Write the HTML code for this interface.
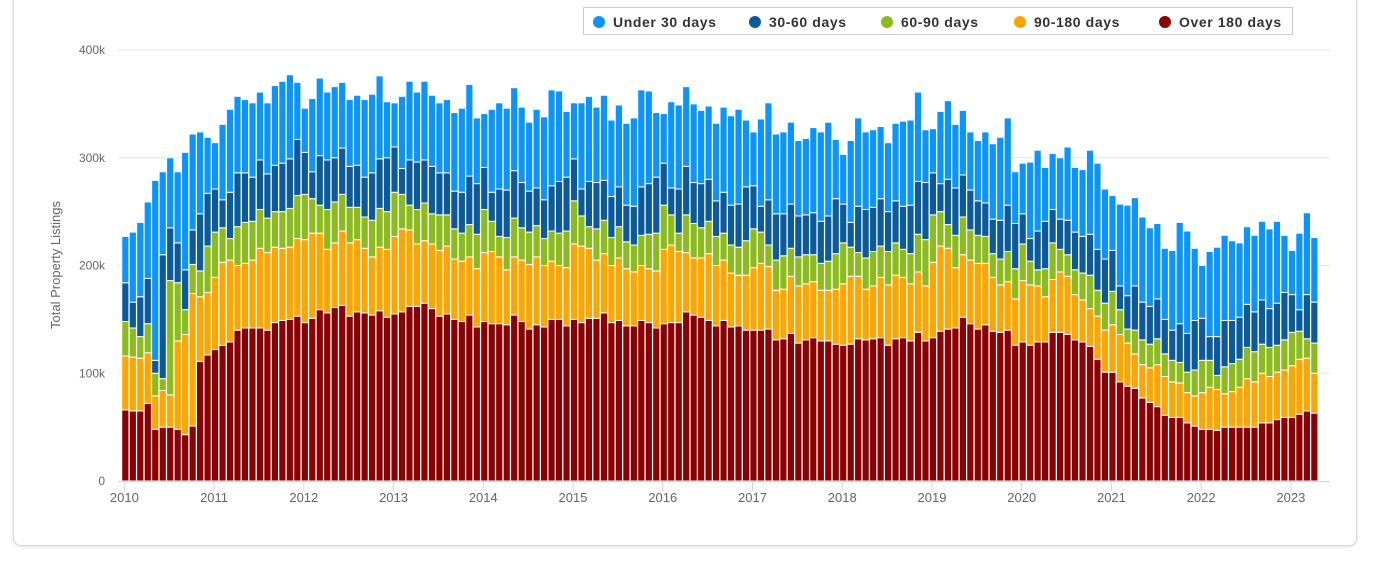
<!DOCTYPE html>
<html><head><meta charset="utf-8">
<style>
html,body{margin:0;padding:0;background:#fff;width:1378px;height:563px;overflow:hidden;font-family:"Liberation Sans",sans-serif;}
#card{position:absolute;left:13px;top:-20px;width:1342px;height:564px;border:1px solid #d8d8d8;border-radius:8px;box-shadow:0 1px 3px rgba(0,0,0,0.12);background:#fff;}
svg{position:absolute;left:0;top:0;}
</style></head><body>
<div id="card"></div>
<svg id="chart" width="1378" height="563"></svg>
<script>
const startYear = 2010;
const yTicks = [0,100,200,300,400];
const yTickLabels = ["0","100k","200k","300k","400k"];
const xYearLabels = ["2010","2011","2012","2013","2014","2015","2016","2017","2018","2019","2020","2021","2022","2023"];
const seriesNames = ["Over 180 days","90-180 days","60-90 days","30-60 days","Under 30 days"];
const over180 = [66,65,65,72,48,50,50,48,43,51,111,117,122,126,129,140,142,142,142,140,147,149,150,153,147,151,159,156,161,163,153,157,156,154,158,152,155,157,162,162,165,160,153,155,150,148,154,143,148,146,146,145,154,148,141,145,143,150,150,144,150,147,151,151,156,147,149,144,144,149,147,142,146,147,147,157,154,152,149,144,149,143,144,140,140,140,141,131,132,137,128,131,133,130,130,127,126,127,132,131,132,133,126,132,133,130,138,130,133,139,141,142,152,146,141,145,139,138,140,126,129,126,129,129,138,138,136,131,129,125,113,101,101,92,88,86,77,73,69,61,59,59,54,51,48,48,47,50,50,50,50,50,54,54,57,59,59,62,65,63];
const d90to180 = [50,50,49,47,31,34,30,82,93,123,60,58,67,77,76,60,60,63,74,72,70,67,67,72,77,79,71,59,60,69,68,67,60,54,59,63,72,77,71,58,58,60,61,63,56,56,54,54,64,67,62,51,54,57,60,63,57,54,50,54,70,71,65,54,55,53,58,53,50,51,50,53,69,72,66,55,53,55,62,56,56,50,47,51,58,62,58,46,46,53,53,52,52,47,47,51,57,63,58,47,49,56,56,59,56,53,56,51,70,79,75,56,58,59,61,57,50,44,45,43,57,56,52,42,49,56,54,42,39,35,40,39,44,44,40,32,31,32,39,36,33,32,28,28,34,39,38,31,33,37,45,42,46,43,44,44,48,51,49,37];
const d60to90 = [32,27,20,27,21,11,106,54,23,27,24,43,42,32,20,36,38,36,36,32,33,34,36,40,42,32,26,37,38,34,33,30,29,34,36,35,41,32,23,32,35,28,33,29,28,26,30,32,40,28,19,30,36,30,30,29,25,28,30,34,40,28,20,29,31,26,29,25,25,28,32,35,41,28,17,35,32,28,30,27,25,26,26,32,36,29,20,28,31,26,27,27,25,25,27,33,38,27,22,29,32,29,31,30,26,28,35,43,44,32,22,30,35,28,26,25,22,24,28,28,34,22,15,26,34,21,20,23,25,31,24,25,31,23,13,22,23,22,24,21,20,19,19,24,30,25,13,25,26,26,29,28,27,27,25,28,31,26,18,28];
const d30to60 = [36,24,37,42,12,115,49,37,37,32,53,49,40,26,43,50,46,41,46,41,43,45,46,52,39,25,46,46,41,43,38,39,37,44,46,50,42,24,42,44,40,44,39,39,35,38,45,47,39,27,44,44,44,42,38,35,36,42,48,50,39,25,42,43,37,38,37,34,36,45,47,52,39,25,41,45,38,41,39,33,38,37,40,50,40,24,42,43,39,41,38,37,39,39,42,51,36,23,43,45,41,44,37,39,40,45,49,53,39,26,42,44,39,37,32,31,32,36,43,42,28,21,36,44,31,28,32,35,34,38,38,41,38,22,31,41,35,35,37,32,28,36,36,46,39,22,36,43,40,39,40,37,41,36,39,44,35,20,41,38];
const under30 = [43,65,69,71,167,77,65,66,109,89,76,52,43,70,77,71,68,69,63,66,74,76,78,53,41,68,72,63,66,61,62,65,72,73,77,52,41,67,73,65,73,66,65,68,73,78,85,61,50,77,80,76,77,70,64,73,77,89,84,61,52,80,79,70,79,71,76,76,82,90,86,60,46,80,78,74,73,68,68,72,79,83,88,62,50,81,90,74,76,76,70,71,79,83,87,55,46,76,82,72,72,67,64,72,79,79,83,49,41,67,73,59,60,54,56,66,70,77,81,48,47,71,75,50,52,57,68,60,62,78,80,65,51,76,84,82,79,73,70,66,74,94,95,67,49,79,83,79,74,69,72,71,73,74,76,53,41,71,76,60];

const NS="http://www.w3.org/2000/svg";
const svg=document.getElementById('chart');
const plotTop=50, plotBottom=481, yMax=400;
const xLeft=118.6, band=7.478;
function yPos(v){return plotBottom-(v/yMax)*(plotBottom-plotTop);}
function xCenter(i){return xLeft+band*i+band/2+3;}
function mk(tag,attrs){const e=document.createElementNS(NS,tag);for(const k in attrs)e.setAttribute(k,attrs[k]);svg.appendChild(e);return e;}

yTicks.forEach((t,k)=>{
  if(t>0){const g=mk('line',{x1:118,x2:1330,y1:yPos(t),y2:yPos(t),stroke:'#e6e6e6','stroke-width':1});
  
  }
  const tx=mk('text',{x:105,y:yPos(t)+4,'text-anchor':'end','font-size':'12',fill:'#666'});
  tx.textContent=yTickLabels[k];
  
  
});
const yt=mk('text',{x:0,y:0,transform:'translate(60,265) rotate(-90)','text-anchor':'middle','font-size':'13',fill:'#666'});
yt.textContent='Total Property Listings';



const series=[over180,d90to180,d60to90,d30to60,under30];
const colors=['#8b0000','#ffa500','#8cbb1e','#0a5a9c','#0b94fd'];
const n=over180.length;
for(let i=0;i<n;i++){
  let cum=0;
  for(let s=0;s<series.length;s++){
    const v=series[s][i];
    const y1=yPos(cum+v), y0=yPos(cum);
    const r=mk('rect',{x:xCenter(i)-3.6,y:y1,width:7.2,height:Math.max(0,y0-y1),fill:colors[s],stroke:'#fff','stroke-width':1});
    
    
    cum+=v;
  }
}
const ax=mk('line',{x1:118,x2:1330,y1:481.5,y2:481.5,stroke:'#ccd6eb','stroke-width':1});


xYearLabels.forEach((lab,k)=>{
  const x=xCenter(k*12)-1;
  const tk=mk('line',{x1:x,x2:x,y1:481,y2:491,stroke:'#ccd6eb','stroke-width':1});
  
  
  const t=mk('text',{x:x,y:502,'text-anchor':'middle','font-size':'13',fill:'#666'});
  t.textContent=lab;
  
  
});

const lg=mk('rect',{x:583.5,y:7.5,width:709,height:27,fill:'#fff',stroke:'#cccccc','stroke-width':1});


const legNames=["Under 30 days","30-60 days","60-90 days","90-180 days","Over 180 days"];
const legColors=['#0b94fd','#0a5a9c','#8cbb1e','#ffa500','#8b0000'];
const legX=[599,755,887,1020,1165];
legNames.forEach((nm,k)=>{
  const c=mk('circle',{cx:legX[k],cy:22,r:6,fill:legColors[k]});
  
  
  const t=mk('text',{x:legX[k]+14,y:27,'font-size':'14','font-weight':'bold','letter-spacing':'0.6',fill:'#333'});
  t.textContent=nm;
  
  
});
</script>
</body></html>
